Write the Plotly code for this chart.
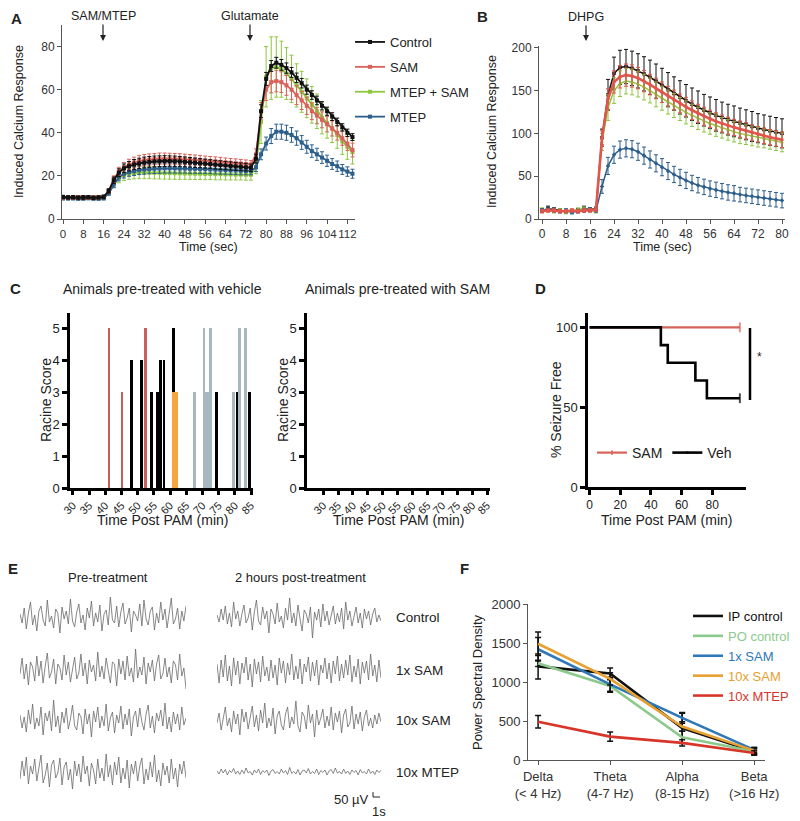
import numpy as np
import plotly.graph_objects as go

# the page puts the figure 8 px in from the top-left corner, so the figure
# is drawn 8 px smaller and every pixel position below is shifted by 8
OX, OY = 8, 8
W, H = 792, 813
FONT = "Liberation Sans, Arial, sans-serif"


def px(x):
    return (x - OX) / W


def py(y):
    return (H - (y - OY)) / H


# ---------------- panel A: glutamate response ----------------
a_time = list(range(0, 116, 2))
a_control = [10.2, 10.0, 10.1, 9.9, 10.0, 10.1, 9.8, 10.0, 10.3,
             13.0, 18.0, 21.5, 23.5, 24.5, 25.3, 25.8, 26.2, 26.5, 26.7,
             26.8, 26.9, 26.9, 26.8, 26.7, 26.5, 26.3, 26.1, 25.9, 25.7,
             25.5, 25.2, 25.0, 24.8, 24.6, 24.4, 24.2, 24.0, 23.8, 28.0,
             50, 65, 71, 72.5, 71.5, 70, 68, 65.5, 63, 60,
             57.5, 55, 52.5, 50, 47.5, 45, 42.5, 40, 38]
a_control_err = [0.8, 0.7, 0.8, 0.7, 0.8, 0.7, 0.8, 0.7, 0.8,
                 1.0, 1.5, 1.8, 2.0, 2.2, 2.3, 2.4, 2.5, 2.5, 2.5,
                 2.5, 2.5, 2.4, 2.4, 2.3, 2.3, 2.2, 2.2, 2.1, 2.1,
                 2.0, 2.0, 2.0, 1.9, 1.9, 1.8, 1.8, 1.8, 1.7, 2.0,
                 3.0, 3.0, 2.5, 2.5, 2.5, 2.4, 2.3, 2.2, 2.2, 2.1,
                 2.0, 2.0, 1.9, 1.9, 1.8, 1.8, 1.7, 1.7, 1.6]
a_sam = [10.0, 10.1, 9.9, 10.0, 10.2, 9.9, 10.0, 10.1, 10.2,
         13.0, 18.5, 22.0, 24.0, 25.3, 26.2, 26.9, 27.3, 27.6, 27.8,
         28.0, 28.0, 28.0, 27.9, 27.8, 27.7, 27.5, 27.4, 27.2, 27.0,
         26.8, 26.7, 26.5, 26.3, 26.1, 25.9, 25.7, 25.5, 25.3, 30.0,
         50, 60, 63.5, 64, 63.5, 62, 60, 57.5, 55, 52.5,
         50, 48, 46, 44, 42, 40, 37.5, 35, 32]
a_sam_err = [0.7, 0.8, 0.7, 0.8, 0.7, 0.8, 0.7, 0.8, 0.7,
             1.0, 1.5, 2.0, 2.2, 2.4, 2.5, 2.6, 2.6, 2.6, 2.6,
             2.6, 2.6, 2.5, 2.5, 2.5, 2.4, 2.4, 2.3, 2.3, 2.2,
             2.2, 2.1, 2.1, 2.0, 2.0, 2.0, 1.9, 1.9, 1.8, 2.5,
             4.0, 5.0, 5.0, 5.0, 4.8, 4.6, 4.5, 4.4, 4.2, 4.0,
             3.9, 3.8, 3.7, 3.6, 3.5, 3.4, 3.3, 3.2, 3.2]
a_mtep_sam = [9.8, 10.0, 9.9, 10.1, 9.8, 10.0, 9.9, 9.8, 10.0,
              12.5, 16.5, 19.0, 20.3, 21.0, 21.3, 21.5, 21.5, 21.5, 21.4,
              21.4, 21.3, 21.3, 21.2, 21.2, 21.1, 21.1, 21.0, 21.0, 20.9,
              20.9, 20.8, 20.8, 20.7, 20.7, 20.6, 20.6, 20.5, 20.5, 24.0,
              45, 66, 70, 70.5, 69.5, 67.5, 65, 62, 59, 56,
              53, 50, 47, 44.5, 42, 39, 36, 33.5, 31]
a_mtep_sam_err = [0.8, 0.7, 0.8, 0.7, 0.8, 0.7, 0.8, 0.7, 0.8,
                  1.0, 1.8, 2.2, 2.5, 2.6, 2.7, 2.8, 2.8, 2.8, 2.8,
                  2.8, 2.8, 2.8, 2.8, 2.8, 2.7, 2.7, 2.7, 2.7, 2.7,
                  2.6, 2.6, 2.6, 2.6, 2.6, 2.5, 2.5, 2.5, 2.5, 3.0,
                  10, 14, 14.5, 14, 13, 12, 11, 10, 9.5, 9,
                  8.5, 8, 7.5, 7, 6.5, 6.2, 6, 5.8, 5.5]
a_mtep = [9.6, 9.5, 9.6, 9.4, 9.5, 9.6, 9.5, 9.4, 9.6,
          12.0, 16.0, 19.5, 21.0, 21.8, 22.3, 22.7, 23.0, 23.2, 23.3,
          23.4, 23.5, 23.5, 23.5, 23.4, 23.4, 23.3, 23.3, 23.2, 23.1,
          23.0, 22.9, 22.8, 22.7, 22.6, 22.5, 22.4, 22.3, 22.3, 24.0,
          30, 35, 38.5, 40.5, 40.5, 40, 39, 37.5, 35.5, 33.5,
          31.5, 30, 28.5, 27, 25.5, 24.5, 23, 22, 21]
a_mtep_err = [0.7, 0.6, 0.7, 0.6, 0.7, 0.6, 0.7, 0.6, 0.7,
              1.0, 1.5, 1.8, 2.0, 2.0, 2.1, 2.1, 2.2, 2.2, 2.2,
              2.2, 2.2, 2.2, 2.2, 2.1, 2.1, 2.1, 2.1, 2.0, 2.0,
              2.0, 2.0, 2.0, 1.9, 1.9, 1.9, 1.9, 1.8, 1.8, 2.0,
              2.5, 3.0, 3.5, 3.5, 3.5, 3.5, 3.4, 3.3, 3.2, 3.0,
              2.9, 2.8, 2.7, 2.6, 2.5, 2.4, 2.3, 2.2, 2.1]

# ---------------- panel B: DHPG response ----------------
b_time = list(range(0, 82, 2))
b_control = [10, 12, 11, 10, 9, 9, 10, 12, 11, 12,
             95, 145, 170, 177, 178, 176, 173, 169.5, 165.5, 161,
             156, 151, 146.5, 142, 138, 134, 130.5, 127, 124, 121,
             118.5, 116, 114, 112, 110, 108, 106, 104.5, 103, 101.5, 100]
b_control_err = [2, 3, 2, 2, 2, 2, 2, 3, 2, 2,
                 10, 18, 19, 20, 20, 20, 20, 20, 20, 20,
                 20, 20, 19.5, 19.5, 19, 19, 19, 18.5, 18.5, 18.5,
                 18, 18, 18, 17.5, 17.5, 17.5, 17, 17, 17, 17, 17]
b_sam = [9, 10, 10, 9, 9, 10, 9, 10, 10, 11,
         95, 140, 160, 166, 168, 167, 164.5, 161, 157, 152.5,
         148, 143.5, 139, 135, 131, 127, 123.5, 120, 117, 114,
         111.5, 109, 107, 105, 103, 101, 99, 97, 95.5, 94, 92.5]
b_sam_err = [2, 2, 2, 2, 2, 2, 2, 2, 2, 2,
             8, 12, 13, 13, 13, 13, 12.5, 12.5, 12, 12,
             12, 11.5, 11.5, 11, 11, 11, 10.5, 10.5, 10, 10,
             10, 10, 9.5, 9.5, 9.5, 9, 9, 9, 9, 9, 9]
b_mtep_sam = [11, 10, 9, 10, 8, 9, 11, 12, 10, 9,
              90, 130, 150, 158, 161, 160, 157.5, 154, 150, 145.5,
              141, 136.5, 132.5, 128.5, 124.5, 121, 117.5, 114.5, 111.5, 109,
              106.5, 104, 102, 100, 98.5, 97, 95.5, 94, 92.5, 91, 89.5]
b_mtep_sam_err = [2, 2, 2, 2, 2, 2, 2, 2, 2, 2,
                  10, 15, 15, 15, 15, 15, 15, 15, 14.5, 14.5,
                  14, 14, 14, 13.5, 13.5, 13, 13, 13, 12.5, 12.5,
                  12, 12, 12, 12, 11.5, 11.5, 11.5, 11, 11, 11, 11]
b_mtep = [10, 11, 10, 9, 10, 8, 9, 10, 11, 10,
          38, 62, 75, 81, 82.5, 81.5, 78.5, 74, 69.5, 65,
          60.5, 56, 52, 48.5, 45, 42, 39.5, 37.5, 35.5, 34,
          32.5, 31, 30, 28.5, 27.5, 26.5, 25.5, 24.5, 23.5, 22.5, 21.5]
b_mtep_err = [2, 2, 2, 2, 2, 2, 2, 2, 2, 2,
              8, 10, 10, 10, 10, 10, 10, 10, 10, 10,
              10, 10, 9.5, 9.5, 9.5, 9, 9, 9, 9, 9,
              9, 9, 9, 8.5, 8.5, 8.5, 8.5, 8.5, 8.5, 8.5, 8.5]

# ---------------- panel C: racine scores ----------------
c_red_t = [41.2, 45.2, 52.4]
c_red_s = [5, 3, 5]
c_black_t = [48.2, 51.2, 54.3, 56.1, 57.1, 58.1, 61.1, 74.3, 80.9, 84.6]
c_black_s = [4, 4, 3, 3, 4, 4, 5, 3, 3, 3]
c_orange_t = [61.6]
c_orange_s = [3]
c_gray_t = [67.6, 70.5, 71.2, 71.9, 72.5, 79.5, 81.5, 83.3]
c_gray_s = [3, 5, 3, 3, 5, 3, 5, 5]

# ---------------- panel D: seizure free ----------------
d_veh_t = [0, 46.5, 51, 69, 76.5, 98]
d_veh_s = [100, 88.9, 77.8, 66.7, 55.6, 55.6]
d_sam_t = [0, 98]
d_sam_s = [100, 100]

# ---------------- panel E: EEG traces (uV) ----------------
eeg_rows = ["Control", "1x SAM", "10x SAM", "10x MTEP"]
eeg_pre = [
    [30, -60, 90, -120, 40, 150, -80, 20, -140, 60, 110, -30, -90, 170, -50, 10, -110, 80, 40, -160,
     100, -20, 60, -70, 180, -40, -100, 50, 130, -60, 20, -130, 90, -10, 160, -90, 40, -50, 120, -140,
     30, 70, -80, 200, -30, -60, 110, -100, 50, 140, -70, -10, 90, -150, 60, 20, -40, 130, -90, 170,
     -20, -80, 60, 100, -130, 40, -60, 150, -30, 80, -110, 50, 190, -70, -20, 90, -120, 60, -40, 110],
    [-40, 120, -90, 60, -150, 80, 30, -110, 140, -60, 90, -130, 40, 170, -80, -20, 110, -140, 60, 20,
     -100, 150, -50, 80, -120, 30, 130, -90, -30, 160, -60, 70, -140, 100, -20, 50, -110, 180, -70, 40,
     -90, 120, -30, -130, 80, 60, -160, 110, -40, 90, -100, 140, -60, 20, -120, 210, -80, 30, -50, 130,
     -140, 70, -20, 100, -110, 60, 150, -90, -40, 120, -70, 30, -130, 90, 50, -100, 160, -60, 20, -190],
    [50, -80, 30, -120, 100, -40, 160, -90, 20, -60, 130, -150, 70, -10, 90, -110, 200, -70, 40, -130,
     80, -30, 120, -90, 10, 150, -60, -100, 70, 30, -140, 110, -40, 60, -170, 90, -20, 130, -80, 40,
     -60, 160, -110, 20, 80, -130, 50, -30, 140, -90, 60, -50, 110, -160, 30, 90, -70, 120, -20, -100,
     60, 150, -80, 40, -130, 70, -10, 100, -60, 170, -90, 30, -120, 80, -40, 60, -100, 130, -50, 20],
    [-70, 110, -40, 150, -120, 60, -20, 130, -90, 40, 170, -110, -30, 90, -150, 70, 120, -60, -10, 140,
     -130, 50, 100, -80, 30, -170, 110, -40, 80, -100, 160, -20, 60, -140, 90, 20, -120, 130, -60, 40,
     -90, 180, -50, 70, -130, 100, -30, 150, -110, 40, -70, 120, -160, 80, -20, 110, -90, 60, 140, -120,
     30, -80, 100, -50, 170, -100, 20, -140, 90, -30, 60, -110, 130, -70, 40, -150, 80, -20, 110, -60],
]
eeg_post = [
    [20, -50, 80, -30, 110, -70, 40, -100, 150, -20, 60, -90, 30, 120, -60, -10, 90, -130, 50, 170,
     -40, -80, 100, -20, 60, -160, 80, 30, -70, 140, -50, 10, -110, 90, -30, 190, -60, 40, -90, 120,
     -20, -140, 70, 30, -60, 100, -210, 50, -30, 80, -100, 130, -40, 60, -80, 20, 110, -70, 40, -50,
     90, -120, 150, -30, 60, -90, 20, 100, -60, 40, -110, 80, -20, 60, -80, 30, 90, -50, 20, -40],
    [60, -130, 100, -70, 150, -110, 40, -160, 120, -50, 90, -140, 70, -30, 130, -100, 60, -170, 110, -40,
     80, -120, 140, -60, 30, -110, 100, -80, 50, -150, 120, -30, 90, -130, 70, -50, 160, -100, 40, -90,
     110, -140, 60, -20, 130, -110, 80, -60, 100, -150, 50, -30, 120, -90, 70, -130, 90, -40, 140, -110,
     60, -80, 100, -50, 150, -120, 40, -70, 110, -140, 80, -30, 90, -100, 160, -60, 50, -120, 100, -80],
    [-30, 70, -100, 40, 130, -60, 20, -120, 90, -40, 60, -150, 110, -20, 80, -90, 30, 140, -70, 50,
     -110, 100, -30, 170, -80, 20, -60, 120, -140, 40, 90, -50, -100, 60, 130, -80, 30, -40, 190, -60,
     -120, 80, 40, -90, 150, -30, 60, -170, 100, -50, 20, 110, -80, 40, -60, 130, -100, 70, -20, 90,
     -130, 50, 110, -70, -30, 140, -90, 60, -40, 80, -110, 30, 100, -60, 20, -80, 50, -40, 70, -20],
    [10, -20, 30, -10, 25, -30, 15, -5, 35, -20, 10, -25, 20, -15, 40, -10, 5, -30, 20, -10,
     30, -25, 15, -5, 20, -35, 10, 25, -15, 5, -20, 30, -10, 15, -25, 45, -15, 5, -20, 25,
     -30, 10, 20, -10, 35, -20, 5, -15, 30, -25, 15, -5, 20, -30, 10, 25, -15, 40, -10, 5,
     -20, 30, -15, 10, -25, 20, -5, 15, -30, 25, -10, 5, -20, 30, -15, 10, -25, 20, -5, 15],
]
eeg_duration = 24  # seconds shown per trace

# ---------------- panel F: power spectral density ----------------
f_bands = ["Delta", "Theta", "Alpha", "Beta"]
f_band_labels = ["Delta<br>(&lt; 4 Hz)", "Theta<br>(4-7 Hz)", "Alpha<br>(8-15 Hz)", "Beta<br>(&gt;16 Hz)"]
f_names = ["IP control", "PO control", "1x SAM", "10x SAM", "10x MTEP"]
f_values = [[1200, 1110, 410, 110],
            [1240, 950, 290, 110],
            [1420, 970, 540, 130],
            [1490, 1040, 430, 120],
            [490, 300, 220, 90]]
f_errors = [[160, 70, 190, 40],
            [40, 80, 80, 30],
            [150, 90, 70, 30],
            [150, 80, 60, 40],
            [80, 60, 40, 30]]
f_colors = ["#111111", "#8cc98c", "#2f78b8", "#e8a030", "#d8352a"]

# colours
C_BLACK = "#111111"
C_RED = "#d9625b"
C_GREEN = "#8dc63f"
C_BLUE = "#2d5f8c"

fig = go.Figure()

# ---- A ----
a_series = [
    ("MTEP + SAM", a_mtep_sam, a_mtep_sam_err, C_GREEN, 3),
    ("MTEP", a_mtep, a_mtep_err, C_BLUE, 4),
    ("SAM", a_sam, a_sam_err, C_RED, 2),
    ("Control", a_control, a_control_err, C_BLACK, 1),
]
for name, vals, errs, col, rank in a_series:
    fig.add_trace(go.Scatter(
        x=a_time, y=vals, mode="lines+markers", name=name,
        line=dict(color=col, width=1.8),
        marker=dict(symbol="square", size=4, color=col),
        error_y=dict(type="data", array=errs, color=col, thickness=1, width=2),
        xaxis="x", yaxis="y", legend="legend", legendgroup=name, legendrank=rank,
    ))

# ---- B ----
b_series = [
    (b_control, b_control_err, C_BLACK, "square", 1.5),
    (b_mtep_sam, b_mtep_sam_err, C_GREEN, "triangle-up", 1.5),
    (b_mtep, b_mtep_err, C_BLUE, "diamond", 1.5),
    (b_sam, b_sam_err, "#e0564c", "circle", 2.6),
]
for vals, errs, col, sym, lw in b_series:
    fig.add_trace(go.Scatter(
        x=b_time, y=vals, mode="lines+markers", showlegend=False,
        line=dict(color=col, width=lw),
        marker=dict(symbol=sym, size=3.5, color=col),
        error_y=dict(type="data", array=errs, color=col, thickness=1, width=2),
        xaxis="x2", yaxis="y2",
    ))

# ---- C ----
c_groups = [
    (c_black_t, c_black_s, "#000000", 0.85),
    (c_red_t, c_red_s, "#c8605a", 0.8),
    (c_gray_t, c_gray_s, "#a8b8bf", 0.85),
    (c_orange_t, c_orange_s, "#f7a541", 1.8),
]
for t, s, col, w in c_groups:
    fig.add_trace(go.Bar(
        x=t, y=s, width=w, marker=dict(color=col, line=dict(width=0)),
        showlegend=False, xaxis="x3", yaxis="y3",
    ))
fig.add_trace(go.Bar(x=[], y=[], showlegend=False, xaxis="x4", yaxis="y4"))

# ---- D ----
fig.add_trace(go.Scatter(
    x=d_sam_t, y=d_sam_s, mode="lines+markers", name="SAM", line_shape="hv",
    line=dict(color=C_RED, width=2.2),
    marker=dict(symbol="line-ns", size=[0, 7], line=dict(color=C_RED, width=2)),
    xaxis="x5", yaxis="y5", legend="legend2",
))
fig.add_trace(go.Scatter(
    x=d_veh_t, y=d_veh_s, mode="lines+markers", name="Veh", line_shape="hv",
    line=dict(color="#000000", width=2.6),
    marker=dict(symbol="line-ns", size=[0, 0, 0, 0, 0, 7], line=dict(color="#000000", width=2)),
    xaxis="x5", yaxis="y5", legend="legend2",
))

# ---- E ----
for i in range(len(eeg_rows)):
    for col_axis, data in (("x7", eeg_pre[i]), ("x8", eeg_post[i])):
        t = np.linspace(0, eeg_duration, len(data))
        fig.add_trace(go.Scatter(
            x=t, y=data, mode="lines", showlegend=False, hoverinfo="skip",
            line=dict(color="#6a6a6a", width=0.8),
            xaxis=col_axis, yaxis="y%d" % (7 + i),
        ))

# ---- F ----
for name, vals, errs, col in zip(f_names, f_values, f_errors, f_colors):
    fig.add_trace(go.Scatter(
        x=f_bands, y=vals, mode="lines",
        name="<span style='color:%s'>%s</span>" % (col, name),
        line=dict(color=col, width=2.6),
        error_y=dict(type="data", array=errs, color="#111111", thickness=1.5, width=3),
        xaxis="x6", yaxis="y6", legend="legend3",
    ))

# ---------------- axes ----------------
thin = dict(showgrid=False, zeroline=False, showline=True, linecolor="#555555", linewidth=1,
            ticks="outside", ticklen=4, tickcolor="#555555", tickwidth=1,
            tickfont=dict(size=12, color="#333333", family=FONT))
thick = dict(showgrid=False, zeroline=False, showline=True, linecolor="#000000", linewidth=2.5,
             ticks="outside", ticklen=5, tickcolor="#000000", tickwidth=2.5,
             tickfont=dict(size=13, color="#222222", family=FONT))
hidden = dict(visible=False, showgrid=False, zeroline=False)
rot_font = dict(size=11, color="#222222", family=FONT)

row_centers = [617, 670, 720, 772]

layout = dict(
    width=W, height=H, margin=dict(l=0, r=0, t=0, b=0, autoexpand=False),
    paper_bgcolor="white", plot_bgcolor="white",
    font=dict(family=FONT, size=12, color="#222222"),
    barmode="overlay", bargap=0,
    xaxis=dict(thin, domain=[px(62), px(355)], range=[-0.4, 115], tick0=0, dtick=8, tickangle=0,
               tickfont=dict(size=11.5, color="#333333", family=FONT), anchor="y"),
    yaxis=dict(thin, domain=[py(219), py(25)], range=[0, 90], tickvals=[0, 20, 40, 60, 80], anchor="x"),
    xaxis2=dict(thin, domain=[px(539), px(785)], range=[-1, 81], tick0=0, dtick=8, tickangle=0, anchor="y2"),
    yaxis2=dict(thin, domain=[py(219), py(46)], range=[0, 202], tickvals=[0, 50, 100, 150, 200], anchor="x2"),
    xaxis3=dict(thick, domain=[px(70), px(253)], range=[29.1, 85.6], tick0=30, dtick=5, tickangle=-45,
                ticklen=4, tickfont=rot_font, anchor="y3"),
    yaxis3=dict(thick, domain=[py(488), py(313)], range=[0, 5.47], dtick=1, anchor="x3"),
    xaxis4=dict(thick, domain=[px(307), px(490)], range=[24.6, 86], tickvals=list(range(30, 90, 5)),
                tickangle=-45, ticklen=4, tickfont=rot_font, anchor="y4"),
    yaxis4=dict(thick, domain=[py(488), py(313)], range=[0, 5.47], dtick=1, anchor="x4"),
    xaxis5=dict(thick, domain=[px(588), px(746)], range=[-1, 102], tickvals=[0, 20, 40, 60, 80],
                tickangle=0, tickfont=dict(size=12, color="#222222", family=FONT), anchor="y5"),
    yaxis5=dict(thick, domain=[py(487), py(313)], range=[0, 109], tickvals=[0, 50, 100], anchor="x5"),
    xaxis6=dict(thin, domain=[px(528), px(765)], range=[-0.14, 3.15], type="category",
                tickvals=f_bands, ticktext=f_band_labels, tickangle=0,
                tickfont=dict(size=13, color="#333333", family=FONT), anchor="y6"),
    yaxis6=dict(thin, domain=[py(760), py(604)], range=[0, 2000], dtick=500,
                tickfont=dict(size=13, color="#333333", family=FONT), anchor="x6"),
    xaxis7=dict(hidden, domain=[px(20), px(186)], range=[0, eeg_duration], anchor="y7"),
    xaxis8=dict(hidden, domain=[px(217), px(381)], range=[0, eeg_duration], anchor="y7"),
    legend=dict(x=px(350), y=py(27), xanchor="left", yanchor="top", bgcolor="rgba(0,0,0,0)",
                font=dict(size=13, color="#222222"), tracegroupgap=5, itemwidth=30),
    legend2=dict(x=px(592), y=py(453), xanchor="left", yanchor="middle", orientation="h",
                 bgcolor="rgba(0,0,0,0)", font=dict(size=14, color="#222222"), itemwidth=30),
    legend3=dict(x=px(688), y=py(601), xanchor="left", yanchor="top", bgcolor="rgba(0,0,0,0)",
                 font=dict(size=13), itemwidth=30),
)
for i, c in enumerate(row_centers):
    layout["yaxis%d" % (7 + i)] = dict(hidden, domain=[py(c + 25), py(c - 25)], range=[-250, 250], anchor="x7")

fig.update_layout(layout)

# ---------------- text ----------------
ann = []


def text(x, y, s, size=12, bold=False, angle=0, xanchor="center", color="#222222"):
    if bold:
        s = "<b>%s</b>" % s
    ann.append(dict(x=px(x), y=py(y), xref="paper", yref="paper", text=s, showarrow=False,
                    textangle=angle, xanchor=xanchor, yanchor="middle",
                    font=dict(size=size, color=color, family=FONT)))


def arrow(x, y_head, label, gap):
    ann.append(dict(x=px(x), y=py(y_head), xref="paper", yref="paper", text=label,
                    showarrow=True, ax=0, ay=-gap, arrowhead=2, arrowsize=1, arrowwidth=1.2,
                    arrowcolor="#222222", font=dict(size=12.5, color="#222222", family=FONT)))


# panel letters
text(16, 18, "A", 15, True)
text(483, 17, "B", 15, True)
text(15, 288, "C", 15, True)
text(540, 288, "D", 15, True)
text(13, 568, "E", 15, True)
text(464, 568, "F", 15, True)

# A / B
arrow(103, 41, "SAM/MTEP", 25)
arrow(250, 41, "Glutamate", 25)
arrow(586, 41, "DHPG", 24)
text(208, 247, "Time (sec)", 12.5)
text(19, 122, "Induced Calcium Response", 12.5, angle=-90)
text(662, 247, "Time (sec)", 12.5)
text(492, 132, "Induced Calcium Response", 12.5, angle=-90)

# C
text(162, 289, "Animals pre-treated with vehicle", 14)
text(397, 289, "Animals pre-treated with SAM", 14)
text(46, 400, "Racine Score", 14, angle=-90)
text(283, 400, "Racine Score", 14, angle=-90)
text(162, 520, "Time Post PAM (min)", 14)
text(398, 520, "Time Post PAM (min)", 14)

# D
text(556, 410, "% Seizure Free", 14, angle=-90)
text(666, 520, "Time Post PAM (min)", 14)
text(759, 357, "*", 12)

# E
text(108, 577, "Pre-treatment", 13)
text(300, 577, "2 hours post-treatment", 13)
for name, c in zip(eeg_rows, row_centers):
    text(394, c, name, 13.5, xanchor="left")
text(371, 799, "50 \u00b5V", 13, xanchor="right")
text(379, 811, "1s", 13)

# F
text(477, 682, "Power Spectral Density", 13, angle=-90)

fig.update_layout(annotations=ann)

# decorations: significance bar in D, scale bar in E
fig.add_shape(type="line", xref="paper", yref="paper", x0=px(750), x1=px(750), y0=py(328), y1=py(400),
              line=dict(color="#000000", width=2.5))
fig.add_shape(type="line", xref="paper", yref="paper", x0=px(373), x1=px(373), y0=py(792), y1=py(797),
              line=dict(color="#222222", width=1))
fig.add_shape(type="line", xref="paper", yref="paper", x0=px(373), x1=px(380), y0=py(797), y1=py(797),
              line=dict(color="#222222", width=1))

fig.write_html("out.html")
